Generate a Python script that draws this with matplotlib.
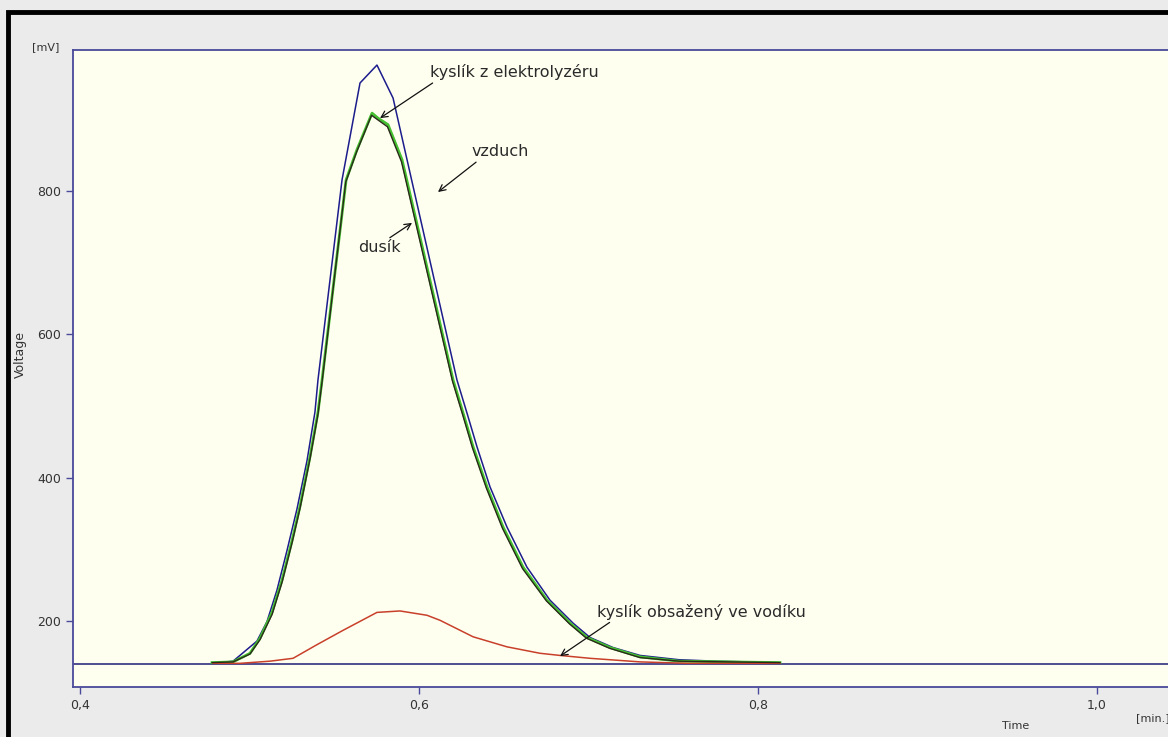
import matplotlib
matplotlib.use("Agg")
import matplotlib.pyplot as plt
from matplotlib.patches import Rectangle
from matplotlib.ticker import FuncFormatter

# vzduch (blue)
vzduch_t = [0.4779, 0.4903, 0.5044, 0.5103, 0.5162, 0.5221, 0.5280, 0.5339, 0.5386,
            0.5404, 0.5546, 0.5652, 0.5752, 0.5847, 0.6224, 0.6283, 0.6342, 0.6419,
            0.6519, 0.6637, 0.6773, 0.6909, 0.7009, 0.7145, 0.7304, 0.7534, 0.7752,
            0.8130]
vzduch_v = [141, 144, 172, 199, 243, 298, 356, 423, 491,
            536, 815, 950, 975, 929, 536, 490, 443, 387,
            331, 275, 229, 197, 177, 163, 152, 146, 144,
            142]

# dusik (green)
dusik_t = [0.4779, 0.4903, 0.5003, 0.5062, 0.5133, 0.5192, 0.5251, 0.5298, 0.5357,
           0.5404, 0.5428, 0.5570, 0.5634, 0.5723, 0.5758, 0.5817, 0.5900, 0.6201,
           0.6260, 0.6319, 0.6401, 0.6496, 0.6614, 0.6755, 0.6891, 0.6991, 0.7127,
           0.7304, 0.7534, 0.8130]
dusik_v = [142, 143, 155, 176, 212, 257, 312, 360, 429,
           491, 536, 815, 857, 908, 901, 892, 843, 536,
           490, 443, 387, 331, 275, 229, 197, 177, 163,
           150, 144, 142]

# kyslik z elektrolyzeru (dark, lying almost on dusik)
elektro_t = [0.4779, 0.4903, 0.5003, 0.5062, 0.5133, 0.5192, 0.5251, 0.5298, 0.5357,
             0.5404, 0.5428, 0.5568, 0.5632, 0.5720, 0.5755, 0.5814, 0.5897, 0.6198,
             0.6257, 0.6316, 0.6398, 0.6493, 0.6611, 0.6752, 0.6888, 0.6988, 0.7124,
             0.7304, 0.7534, 0.8130]
elektro_v = [142, 143, 154, 174, 209, 254, 309, 357, 426,
             488, 533, 812, 854, 905, 899, 889, 840, 534,
             488, 441, 385, 329, 273, 228, 196, 176, 162,
             149, 144, 142]

# kyslik obsazeny ve vodiku (red)
vodik_t = [0.4785, 0.4944, 0.5121, 0.5257, 0.5398, 0.5552, 0.5752, 0.5888, 0.6047,
           0.6124, 0.6319, 0.6519, 0.6714, 0.6832, 0.7009, 0.7304, 0.7587, 0.8130]
vodik_v = [141, 141, 144, 148, 167, 187, 212, 214, 208,
           201, 178, 164, 155, 152, 148, 143, 141, 141]

baseline = 140
xticks = [0.4, 0.6, 0.8, 1.0]
yticks = [200, 400, 600, 800]

axis_col = "#4a4a9a"
txt_col = "#2a2a2a"
fig = plt.figure(figsize=(11.68, 7.37), dpi=100, facecolor="#ebebeb")
ax = fig.add_axes([73 / 1168, 50 / 737, 1 - 73 / 1168, 637 / 737])
ax.set_facecolor("#fffff0")

ax.axhline(baseline, color="#303080", lw=1.2, zorder=2)
ax.plot(vzduch_t, vzduch_v, color="#1c1c8c", lw=1.1, zorder=3)
ax.plot(dusik_t, dusik_v, color="#44c030", lw=2.0, zorder=3)
ax.plot(elektro_t, elektro_v, color="#2a2a1a", lw=1.0, zorder=4)
ax.plot(vodik_t, vodik_v, color="#c8402a", lw=1.1, zorder=3)

ax.set_xlim(0.39587, 1.0419)
ax.set_ylim(108, 996)
ax.set_xticks(xticks)
ax.set_yticks(yticks)
ax.xaxis.set_major_formatter(FuncFormatter(lambda v, p: f"{v:.1f}".replace(".", ",")))
ax.tick_params(direction="out", length=5, width=1, colors=axis_col, labelcolor="#333333",
               labelsize=9)
for s in ["left", "top", "bottom"]:
    ax.spines[s].set_color(axis_col)
    ax.spines[s].set_linewidth(1.3)
ax.spines["right"].set_visible(False)

# annotations
arw = dict(arrowstyle="->", color="#111111", lw=0.9, shrinkA=0, shrinkB=0)
ax.annotate("kyslík z elektrolyzéru", xy=(0.5770, 901), xytext=(0.6065, 965),
            fontsize=11.5, color=txt_col, va="center", ha="left",
            arrowprops=dict(arw, relpos=(0.04, 0.0)))
ax.annotate("vzduch", xy=(0.6112, 798), xytext=(0.6307, 854),
            fontsize=11.5, color=txt_col, va="center", ha="left",
            arrowprops=dict(arw, relpos=(0.15, 0.0)))
ax.annotate("dusík", xy=(0.5959, 755), xytext=(0.5640, 720),
            fontsize=11.5, color=txt_col, va="center", ha="left",
            arrowprops=dict(arw, relpos=(0.65, 1.0)))
ax.annotate("kyslík obsažený ve vodíku", xy=(0.6832, 151), xytext=(0.7050, 213),
            fontsize=11.5, color=txt_col, va="center", ha="left",
            arrowprops=dict(arw, relpos=(0.08, 0.0)))

fig.text(32 / 1168, 1 - 47 / 737, "[mV]", fontsize=8, color="#333333", va="center")
fig.text(20 / 1168, 1 - 354 / 737, "Voltage", fontsize=9, color="#333333",
         rotation=90, va="center", ha="center")
fig.text(1016 / 1168, 1 - 726 / 737, "Time", fontsize=8, color="#333333",
         va="center", ha="center")
fig.text(1136 / 1168, 1 - 718 / 737, "[min.]", fontsize=8, color="#333333", va="center")

# outer black frame (only left and top edges fall inside the picture)
fig.patches.append(Rectangle((8 / 1168, -0.1), 1.2, 1 - 12 / 737 + 0.1,
                             transform=fig.transFigure, fill=False,
                             edgecolor="black", lw=3.5, zorder=10))

fig.savefig("out.png", dpi=100, facecolor=fig.get_facecolor())
